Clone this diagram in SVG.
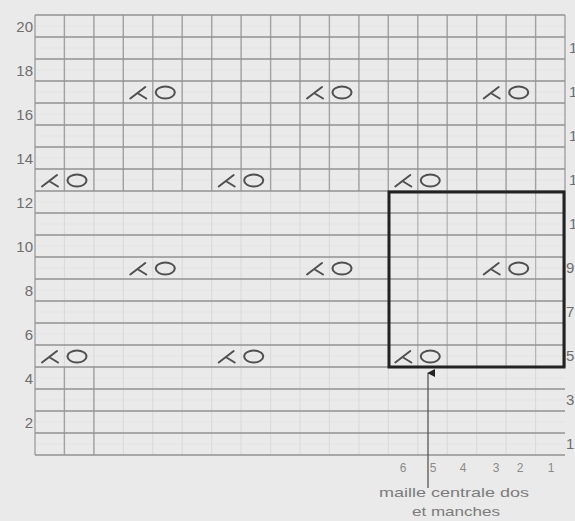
<svg xmlns="http://www.w3.org/2000/svg" width="575" height="521" viewBox="0 0 575 521">
<style>
.bg{fill:#eaeaea}
.hl{stroke:#929292;stroke-width:1.7;fill:none}
.vl{stroke:#dadada;stroke-width:1.1;fill:none}
.vd{stroke:#a2a2a2;stroke-width:1.4;fill:none}
.vm{stroke:#b4b4b4;stroke-width:1.2;fill:none}
.fine{stroke:#e0e0e0;stroke-width:0.6;fill:none}
.lab{font-family:"Liberation Sans",Arial,sans-serif;font-size:15px;fill:#6e6e6e}
.bot{font-family:"Liberation Sans",Arial,sans-serif;font-size:12px;fill:#8a8a8a;text-anchor:middle}
.cap{font-family:"Liberation Sans",Arial,sans-serif;font-size:13px;fill:#7c7c7c}
.sym{stroke:#505050;stroke-width:2;fill:none;stroke-linecap:round}
.box{stroke:#222;stroke-width:3;fill:none}
.arr{stroke:#555;stroke-width:1.3;fill:none}
</style>
<defs>
<g id="kxo" class="sym">
<path d="M7 6.5 L22 -5 M14 1 L23 6.5"/>
<ellipse cx="42" cy="0.5" rx="9.5" ry="6"/>
</g>
<marker id="ah" viewBox="0 0 10 10" refX="5" refY="1" markerWidth="8" markerHeight="8" markerUnits="userSpaceOnUse" orient="auto-start-reverse">
<path d="M0 10 L5 0 L10 10 Z" fill="#222"/>
</marker>
</defs>
<rect class="bg" width="575" height="521"/>

<g id="grid">
<path class="fine" d="M35 26H565M35 48H565M35 70H565M35 92H565M35 114H565M35 136H565M35 158H565M35 180H565M35 202H565M35 224H565M35 246H565M35 268H565M35 290H565M35 312H565M35 334H565M35 356H565M35 378H565M35 400H565M35 422H565M35 444H565"/>
<path class="vl" d="M64.4 15V455M93.9 15V455M123.3 15V455M152.8 15V455M182.2 15V455M211.7 15V455M241.1 15V455M270.6 15V455M300 15V455M329.4 15V455M358.9 15V455M388.3 15V455M417.8 15V455M447.2 15V455M476.7 15V455M506.1 15V455M535.6 15V455"/>
<path class="vd" d="M64.4 15V191M93.9 15V191M123.3 15V191M152.8 15V191M182.2 15V191M211.7 15V191M241.1 15V191M270.6 15V191M300 15V191M329.4 15V191M358.9 15V191M388.3 15V191M417.8 15V191M447.2 15V191M476.7 15V191M506.1 15V191M535.6 15V191M565 15V367M64.4 367V455M93.9 367V455M35 15V455"/>
<path class="vm" d="M417.8 191V367M447.2 191V367M476.7 191V367M506.1 191V367M535.6 191V367"/>
<path class="hl" d="M35 15H565M35 37H565M35 59H565M35 81H565M35 103H565M35 125H565M35 147H565M35 169H565M35 191H565M35 213H565M35 235H565M35 257H565M35 279H565M35 301H565M35 323H565M35 345H565M35 367H565M35 389H565M35 411H565M35 433H565M35 455H565"/>
</g>

<g id="symbols">
<use href="#kxo" x="123.3" y="92"/>
<use href="#kxo" x="300" y="92"/>
<use href="#kxo" x="476.7" y="92"/>
<use href="#kxo" x="35" y="180"/>
<use href="#kxo" x="211.7" y="180"/>
<use href="#kxo" x="388.3" y="180"/>
<use href="#kxo" x="123.3" y="268"/>
<use href="#kxo" x="300" y="268"/>
<use href="#kxo" x="476.7" y="268"/>
<use href="#kxo" x="35" y="356"/>
<use href="#kxo" x="211.7" y="356"/>
<use href="#kxo" x="388.3" y="356"/>
</g>

<g id="repeat-box">
<rect class="box" x="389" y="192" width="175" height="175"/>
</g>

<g id="row-labels-left" class="lab" text-anchor="end">
<text x="33" y="32">20</text>
<text x="33" y="76">18</text>
<text x="33" y="120">16</text>
<text x="33" y="164">14</text>
<text x="33" y="208">12</text>
<text x="33" y="252">10</text>
<text x="33" y="296">8</text>
<text x="33" y="340">6</text>
<text x="33" y="384">4</text>
<text x="33" y="428">2</text>
</g>

<g id="row-labels-right" class="lab">
<text x="569" y="53">19</text>
<text x="569" y="97">17</text>
<text x="569" y="141">15</text>
<text x="569" y="185">13</text>
<text x="569" y="229">11</text>
<text x="566" y="273">9</text>
<text x="566" y="317">7</text>
<text x="566" y="361">5</text>
<text x="566" y="405">3</text>
<text x="566" y="449">1</text>
</g>

<g id="col-labels" class="bot">
<text x="403" y="472">6</text>
<text x="433" y="472">5</text>
<text x="463" y="472">4</text>
<text x="496" y="472">3</text>
<text x="520" y="472">2</text>
<text x="551" y="472">1</text>
</g>

<g id="connectors">
<path class="arr" d="M428 488V373" marker-end="url(#ah)"/>
</g>

<g id="caption" class="cap" text-anchor="middle">
<text x="454" y="497" textLength="150" lengthAdjust="spacingAndGlyphs">maille centrale dos</text>
<text x="456" y="516" textLength="88" lengthAdjust="spacingAndGlyphs">et manches</text>
</g>
</svg>
